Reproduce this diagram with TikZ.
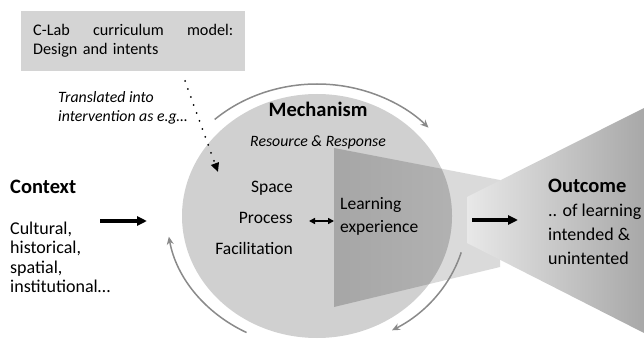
\documentclass[tikz,border=0pt]{standalone}
\usepackage{fontspec}
\setmainfont{Carlito}
\usetikzlibrary{arrows.meta}

\definecolor{discgray}{HTML}{D0D0D0}
\definecolor{boxgray}{HTML}{D4D4D4}
\definecolor{cyclegray}{HTML}{8A8A8A}
\definecolor{funnellight}{HTML}{DADADA}
\definecolor{funneldark}{HTML}{A6A6A6}
\definecolor{funnelmid}{HTML}{B6B6B6}
\definecolor{conelight}{HTML}{E8E8E8}
\definecolor{conedark}{HTML}{A8A8A8}

\tikzset{
  head/.style={font=\fontsize{20.5}{24}\selectfont\bfseries, inner sep=0pt},
  body/.style={font=\fontsize{18}{22}\selectfont, inner sep=0pt},
  itemtext/.style={font=\fontsize{17.5}{21}\selectfont, inner sep=0pt},
  note/.style={font=\fontsize{15.8}{19}\selectfont\itshape, inner sep=0pt},
  designbox/.style={fill=boxgray, font=\fontsize{16.2}{19}\selectfont,
    inner xsep=12pt, inner ysep=0pt, text width=200pt,
    minimum width=224pt, minimum height=60pt},
  cyclearc/.style={cyclegray, line width=1.5pt, -{Stealth[length=8pt,width=7pt]}},
  flow/.style={line width=3.2pt, -{Triangle[length=10pt,width=9pt]}},
  dblflow/.style={line width=2pt, {Triangle[length=6pt,width=6pt]}-{Triangle[length=6pt,width=6pt]}},
  dotflow/.style={line width=2pt, line cap=round, dash pattern=on 0pt off 8.5pt,
    -{Triangle[length=9pt,width=8pt]}},
}

\begin{document}
\begin{tikzpicture}[x=1pt,y=1pt]
    \useasboundingbox (0,0) rectangle (644,340);

    % funnel and outcome cone
    \fill[funnellight] (334,192) -- (500,160) -- (500,73) -- (334,33) -- cycle;
    \shade[left color=conelight, right color=conedark]
        (467,143) -- (644,232) -- (644,7) -- (467,97) -- cycle;

    % mechanism disc
    \coordinate (cen) at (317,124);
    \fill[discgray] (cen) ellipse [x radius=135, y radius=122];
    \begin{scope}
        \clip (cen) ellipse [x radius=135, y radius=122];
        \shade[left color=funneldark, right color=funnelmid]
            (334,192) -- (500,160) -- (500,73) -- (334,33) -- cycle;
    \end{scope}

    % cycle around the disc
    \draw[cyclearc] ([shift={(133:150 and 132)}]cen) arc[start angle=133, end angle=42, x radius=150, y radius=132];
    \draw[cyclearc] ([shift={(-16:150 and 132)}]cen) arc[start angle=-16, end angle=-60, x radius=150, y radius=132];
    \draw[cyclearc] ([shift={(242:150 and 132)}]cen) arc[start angle=242, end angle=189, x radius=150, y radius=132];

    % design box
    \node[designbox, anchor=north west] (design) at (21,329)
        {C-Lab\hfill curriculum\hfill model:\\Design and intents};
    \foreach \line [count=\k] in {Translated into, intervention as e.g…}
        {
        \node[note, anchor=base west] (transl\k) at (58, 256-19*\k) {\line};
        }

    % context
    \node[head, anchor=base west] (context) at (10,146) {Context};
    \foreach \line [count=\k] in {{Cultural,},{historical,},{spatial,},{institutional…}}
        {
        \node[body, anchor=base west] (ctx\k) at (10, 125.5-19.5*\k) {\line};
        }

    % mechanism
    \node[head, anchor=base] (mech) at (318,223) {Mechanism};
    \node[note, anchor=base] (resp) at (318,193) {Resource \& Response};
    \foreach \name/\yy [count=\k] in {Space/147, Process/117, Facilitation/86}
        {
        \node[itemtext, anchor=base east] (it\k) at (293,\yy) {\name};
        }
    \node[itemtext, anchor=base west] (learn1) at (340,130) {Learning};
    \node[itemtext, anchor=base west] (learn2) at (340,108) {experience};

    % outcome
    \node[head, anchor=base west] (outcome) at (548,147) {Outcome};
    \foreach \line [count=\k] in {{.. of learning},{intended \&},{unintented}}
        {
        \node[body, anchor=base west] (out\k) at (548, 148-24*\k) {\line};
        }

    % connectors
    \coordinate (designout) at (185,259);
    \coordinate (spacein) at (218,168);
    \coordinate (ctxout) at (100,119);
    \coordinate (mechin) at (147,119);
    \coordinate (procout) at (309,119);
    \coordinate (learnin) at (334,119);
    \coordinate (learnout) at (472,120);
    \coordinate (outin) at (518,120);
    \draw[dotflow] (designout) -- (spacein);
    \draw[flow] (ctxout) -- (mechin);
    \draw[dblflow] (procout) -- (learnin);
    \draw[flow] (learnout) -- (outin);
\end{tikzpicture}
\end{document}
